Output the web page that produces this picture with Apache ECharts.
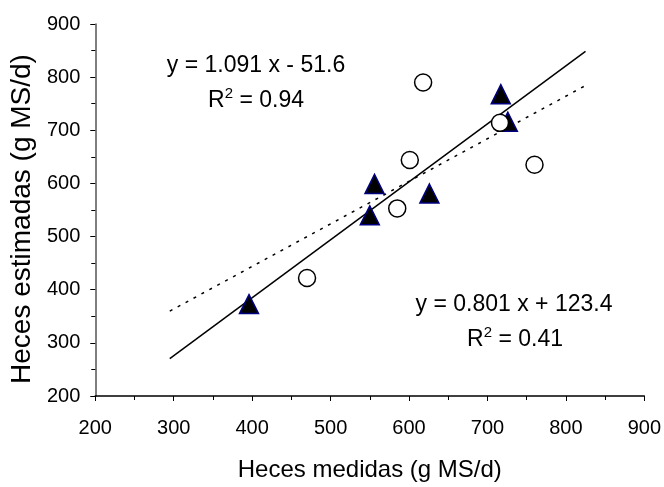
<!DOCTYPE html>
<html>
<head>
<meta charset="utf-8">
<script src="https://cdn.jsdelivr.net/npm/echarts@6/dist/echarts.min.js"></script>
<style>
  html, body { margin: 0; padding: 0; background: #fff; }
  #chart { width: 664px; height: 487px; }
</style>
</head>
<body>
<div id="chart"></div>
<script>
// measured vs estimated faeces
var triangles = [[396, 373], [550, 540], [556, 599], [626, 581], [717, 768], [726, 716]];
var circles = [[470, 422], [585, 553], [601, 644], [618, 790], [716, 714], [760, 635]];
// regression lines (end points)
var lineSolid = [[295, 270.3], [825, 848.5]];
var lineDotted = [[295, 359.7], [825, 784.2]];
var xTicks = [200, 900, 100];
var yTicks = [200, 900, 100];

var font = '"Liberation Sans", Arial, sans-serif';
var chart = echarts.init(document.getElementById('chart'));

// rich style for the R² labels
var rRich = {
    a: { fontSize: 23, fill: '#000', fontFamily: font },
    s: { fontSize: 15, fill: '#000', fontFamily: font, padding: [0, 0, 14, 0] }
};

chart.setOption({
    animation: false,
    textStyle: { fontFamily: font },
    grid: { left: 95, right: 18, top: 24, bottom: 88 },

    xAxis: {
        type: 'value',
        min: xTicks[0], max: xTicks[1], interval: xTicks[2],
        name: 'Heces medidas (g MS/d)',
        nameLocation: 'middle',
        nameGap: 62,
        nameTextStyle: { fontSize: 24, color: '#000', fontFamily: font },
        axisLine: { lineStyle: { color: '#000', width: 1.5 } },
        axisTick: { length: 5, lineStyle: { color: '#000' } },
        minorTick: { show: true, splitNumber: 2, length: 4, lineStyle: { color: '#000' } },
        axisLabel: { fontSize: 20, color: '#000', margin: 22, fontFamily: font },
        splitLine: { show: false }
    },
    yAxis: {
        type: 'value',
        min: yTicks[0], max: yTicks[1], interval: yTicks[2],
        name: 'Heces estimadas (g MS/d)',
        nameLocation: 'middle',
        nameGap: 58,
        nameTextStyle: { fontSize: 28, color: '#000', fontFamily: font, padding: [0, 18, 0, 0] },
        axisLine: { show: true, lineStyle: { color: '#555', width: 1.5 } },
        axisTick: { show: true, length: 5, lineStyle: { color: '#000' } },
        minorTick: { show: true, splitNumber: 2, length: 4, lineStyle: { color: '#000' } },
        axisLabel: { fontSize: 20, color: '#000', margin: 15, fontFamily: font },
        splitLine: { show: false }
    },

    series: [
        {
            type: 'line',
            data: lineSolid,
            symbol: 'none',
            lineStyle: { color: '#000', width: 1.5 },
            z: 1
        },
        {
            type: 'line',
            data: lineDotted,
            symbol: 'none',
            lineStyle: { color: '#000', width: 1.5, type: [3, 6] },
            z: 1
        },
        {
            type: 'scatter',
            data: triangles,
            symbol: 'triangle',
            symbolSize: [19, 19],
            itemStyle: { color: '#000', borderColor: '#000080', borderWidth: 1.5, opacity: 1 },
            z: 3
        },
        {
            type: 'scatter',
            data: circles,
            symbol: 'circle',
            symbolSize: 17,
            itemStyle: { color: '#fff', borderColor: '#000', borderWidth: 1.5, opacity: 1 },
            z: 4
        }
    ],

    graphic: [
        {
            type: 'text', x: 256, y: 66,
            style: { text: 'y = 1.091 x - 51.6', fontSize: 23, fill: '#000', fontFamily: font,
                     align: 'center', verticalAlign: 'middle' }
        },
        {
            type: 'text', x: 256, y: 101,
            style: { text: '{a|R}{s|2}{a| = 0.94}', rich: rRich, align: 'center', verticalAlign: 'middle' }
        },
        {
            type: 'text', x: 514, y: 305,
            style: { text: 'y = 0.801 x + 123.4', fontSize: 23, fill: '#000', fontFamily: font,
                     align: 'center', verticalAlign: 'middle' }
        },
        {
            type: 'text', x: 515, y: 340,
            style: { text: '{a|R}{s|2}{a| = 0.41}', rich: rRich, align: 'center', verticalAlign: 'middle' }
        }
    ]
});
</script>
</body>
</html>
